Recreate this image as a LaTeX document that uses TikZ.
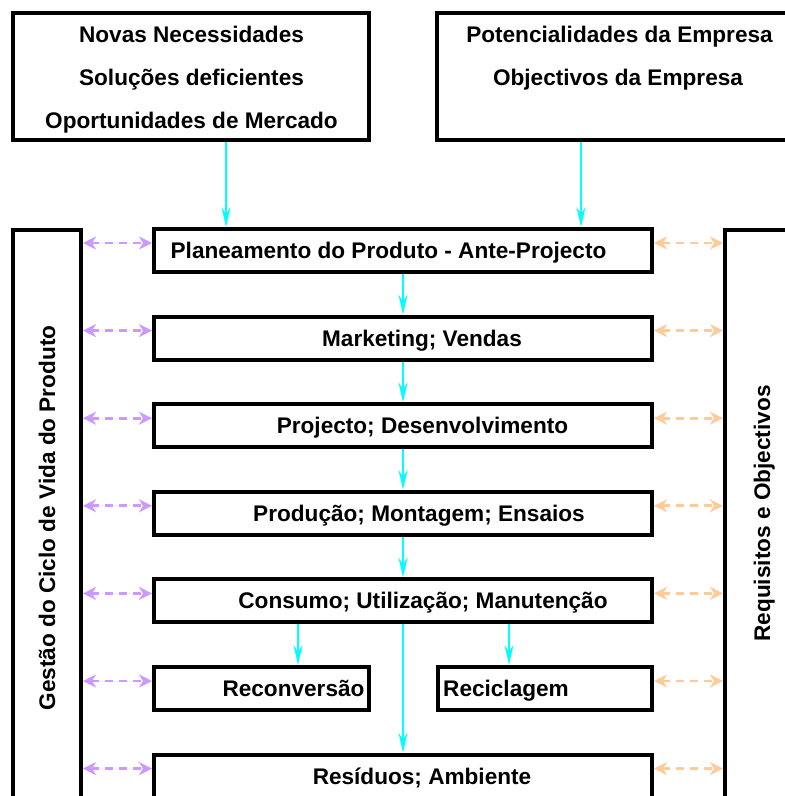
\documentclass[tikz,border=0pt]{standalone}
\usepackage{fontspec}
\setmainfont{Liberation Sans}
\usetikzlibrary{arrows.meta}
\definecolor{flowcyan}{RGB}{0,255,255}
\definecolor{lifepurple}{RGB}{204,153,255}
\definecolor{reqorange}{RGB}{255,204,153}
\begin{document}
\begin{tikzpicture}[x=1pt,y=-1pt,
  box/.style={draw=black,line width=4pt,rectangle,inner sep=0pt},
  stage/.style={box,minimum width=498pt,minimum height=43pt},
  lbl/.style={inner sep=0pt,anchor=base,font=\fontsize{22.6}{27}\selectfont\bfseries},
  flow/.style={draw=flowcyan,line width=2pt,-{Stealth[length=20pt,width=9pt,inset=7pt]}},
  link/.style={line width=2.8pt,dash pattern=on 8pt off 6pt,
    {Stealth[length=13pt,width=13pt,inset=4pt]}-{Stealth[length=13pt,width=13pt,inset=4pt]}},
  linkL/.style={link,draw=lifepurple,fill=lifepurple},
  linkR/.style={link,draw=reqorange,fill=reqorange}]
\useasboundingbox (0,0) rectangle (785,796);
\clip (0,0) rectangle (785,796);
\fill[white] (0,0) rectangle (785,796);

% input boxes
\node[box,minimum width=356pt,minimum height=127pt] (needs) at (191,76.5) {};
\node[box,minimum width=363pt,minimum height=127pt] (firm) at (618.5,76.5) {};
\node[lbl] (n1) at (191.5,42) {Novas Necessidades};
\node[lbl] (n2) at (191.5,85) {Soluções deficientes};
\node[lbl] (n3) at (191.5,128) {Oportunidades de Mercado};
\node[lbl] (f1) at (619.5,42) {Potencialidades da Empresa};
\node[lbl] (f2) at (618,85) {Objectivos da Empresa};

% side columns
\node[box,minimum width=68pt,minimum height=580pt] (life) at (47,520) {};
\node[box,minimum width=75pt,minimum height=580pt] (req) at (762.5,520) {};
\node[lbl,rotate=90] (lifet) at (55,518) {Gestão do Ciclo de Vida do Produto};
\node[lbl,rotate=90] (reqt) at (770,513.5) {Requisitos e Objectivos};

% life-cycle stages
\node[stage] (plan) at (403,250.5) {};
\node[stage] (mkt)  at (403,338.1) {};
\node[stage] (proj) at (403,425.7) {};
\node[stage] (prod) at (403,513.3) {};
\node[stage] (cons) at (403,600.9) {};
\node[box,minimum width=215pt,minimum height=43pt] (recon) at (261.5,688.5) {};
\node[box,minimum width=214pt,minimum height=43pt] (recic) at (545,688.5) {};
\node[stage] (res)  at (403,776.1) {};

\node[lbl] (tplan) at (388.5,258.5) {Planeamento do Produto - Ante-Projecto};
\node[lbl] (tmkt)  at (422,346.1) {Marketing; Vendas};
\node[lbl] (tproj) at (422.5,433.7) {Projecto; Desenvolvimento};
\node[lbl] (tprod) at (419,521.3) {Produção; Montagem; Ensaios};
\node[lbl] (tcons) at (423,608.9) {Consumo; Utilização; Manutenção};
\node[lbl] (trecon) at (293.5,696.5) {Reconversão};
\node[lbl] (trecic) at (506,696.5) {Reciclagem};
\node[lbl] (tres)  at (422,784.1) {Resíduos; Ambiente};

% main flow
\draw[flow] (needs.south -| 226,0) -- (plan.north -| 226,0);
\draw[flow] (firm.south -| 581,0) -- (plan.north -| 581,0);
\draw[flow] (plan) -- (mkt);
\draw[flow] (mkt) -- (proj);
\draw[flow] (proj) -- (prod);
\draw[flow] (prod) -- (cons);
\draw[flow] (cons.south -| 298,0) -- (recon.north -| 298,0);
\draw[flow] (cons.south -| 509,0) -- (recic.north -| 509,0);
\draw[flow] (cons.south) -- (res.north);

% links to the side columns
\foreach \s in {plan,mkt,proj,prod,cons,recon,res}{
  \coordinate (a\s) at ([yshift=-16pt]\s.north west);
  \draw[linkL] (life.east |- a\s) -- (a\s);
}
\foreach \s in {plan,mkt,proj,prod,cons,recic,res}{
  \coordinate (b\s) at ([yshift=-16pt]\s.north east);
  \draw[linkR] (b\s) -- (req.west |- b\s);
}
\end{tikzpicture}
\end{document}
